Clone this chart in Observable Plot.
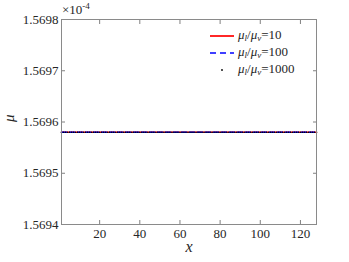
<!DOCTYPE html>
<html>
<head>
<meta charset="utf-8">
<script src="https://cdn.jsdelivr.net/npm/d3@7"></script>
<script src="https://cdn.jsdelivr.net/npm/@observablehq/plot@0.6"></script>
<style>
  html, body { margin: 0; padding: 0; background: #fff; }
  #wrap { position: relative; width: 349px; height: 262px; color: #262626; }
  html body #wrap, html body #wrap *, html body #wrap svg text, html body #wrap svg tspan { font-family: 'Liberation Serif', 'Times New Roman', serif !important; }
  #wrap > svg { position: absolute; left: 0; top: 0; }
  .ov { position: absolute; color: #262626; white-space: nowrap; }
  .leg { font-size: 13px; line-height: 13px; }
  .leg sub { font-size: 9px; vertical-align: -2px; font-style: italic; }
</style>
</head>
<body>
<div id="wrap"></div>
<script>
// Grid positions along x
const xValues = [1,2,3,4,5,6,7,8,9,10,11,12,13,14,15,16,17,18,19,20,21,22,23,24,25,26,27,28,29,30,31,32,
  33,34,35,36,37,38,39,40,41,42,43,44,45,46,47,48,49,50,51,52,53,54,55,56,57,58,59,60,61,62,63,64,
  65,66,67,68,69,70,71,72,73,74,75,76,77,78,79,80,81,82,83,84,85,86,87,88,89,90,91,92,93,94,95,96,
  97,98,99,100,101,102,103,104,105,106,107,108,109,110,111,112,113,114,115,116,117,118,119,120,121,122,123,124,125,126,127,128];
// Series (mu in units of 1e-4), constant along x
const seriesNames = ["10", "100", "1000"];
const seriesMu = [1.56958, 1.56958, 1.56958];
const yTicks = [1.5694, 1.5695, 1.5696, 1.5697, 1.5698];
const xTicks = [20, 40, 60, 80, 100, 120];

const rows = [];
seriesNames.forEach((s, i) => xValues.forEach(x => rows.push({series: s, x, mu: seriesMu[i]})));
const r10 = rows.filter(d => d.series === "10");
const r100 = rows.filter(d => d.series === "100");
const r1000 = rows.filter(d => d.series === "1000");

const serif = "'Liberation Serif', 'Times New Roman', serif";
const chart = Plot.plot({
  width: 349,
  height: 262,
  marginLeft: 61,
  marginRight: 33,
  marginTop: 19,
  marginBottom: 38,
  style: {fontFamily: serif, fontSize: "13px", color: "#262626", background: "transparent"},
  x: {domain: [1, 128]},
  y: {domain: [1.5694, 1.5698]},
  marks: [
    Plot.line(r10, {x: "x", y: "mu", stroke: "#ff0000", strokeWidth: 1.6}),
    Plot.line(r100, {x: "x", y: "mu", stroke: "#0000ff", strokeWidth: 1.6, strokeDasharray: "5,3"}),
    Plot.dot(r1000, {x: "x", y: "mu", r: 0.8, fill: "#000", stroke: null}),
    Plot.axisY(yTicks, {anchor: "left", tickSize: -4, tickPadding: 7, tickFormat: d => d.toFixed(4), label: null, stroke: "#808080", color: "#262626", fontSize: 13, fontFamily: serif}),
    Plot.axisY(yTicks, {anchor: "right", tickSize: -4, tickFormat: () => "", label: null, stroke: "#808080"}),
    Plot.axisX(xTicks, {anchor: "bottom", tickSize: -4, tickPadding: 8, label: null, stroke: "#808080", color: "#262626", fontSize: 13, fontFamily: serif}),
    Plot.axisX(xTicks, {anchor: "top", tickSize: -4, tickFormat: () => "", label: null, stroke: "#808080"}),
    Plot.frame({stroke: "#8a8a8a", strokeWidth: 1}),
    Plot.text(["μ"], {frameAnchor: "left", dx: -52, rotate: -90, fontStyle: "italic", fontSize: 15, fill: "#262626", fontFamily: serif}),
    Plot.text(["x"], {frameAnchor: "bottom", dy: 27, fontStyle: "italic", fontSize: 16, fill: "#262626", fontFamily: serif})
  ]
});
const wrap = document.getElementById("wrap");
wrap.appendChild(chart);

// exponent label
const ex = document.createElement("div");
ex.className = "ov";
ex.style.fontFamily = serif;
ex.style.left = "62px"; ex.style.top = "1px"; ex.style.fontSize = "13px";
ex.innerHTML = "×10<sup style='font-size:9px;vertical-align:5px'>-4</sup>";
wrap.appendChild(ex);

// legend
const legendSpecs = [
  {name: seriesNames[0], type: "solid", color: "#ff0000"},
  {name: seriesNames[1], type: "dash", color: "#0000ff"},
  {name: seriesNames[2], type: "dot", color: "#000"}
];
legendSpecs.forEach((s, i) => {
  const cy = 36 + i * 17;
  const sw = document.createElementNS("http://www.w3.org/2000/svg", "svg");
  sw.setAttribute("width", 28); sw.setAttribute("height", 8);
  sw.style.position = "absolute"; sw.style.left = "208px"; sw.style.top = (cy - 4) + "px";
  if (s.type === "dot") {
    sw.innerHTML = `<circle cx="14" cy="4" r="0.9" fill="${s.color}"/>`;
  } else {
    sw.innerHTML = `<line x1="2" x2="26" y1="4" y2="4" stroke="${s.color}" stroke-width="1.7" ${s.type === "dash" ? 'stroke-dasharray="6,4"' : ""}/>`;
  }
  wrap.appendChild(sw);
  const t = document.createElement("div");
  t.className = "ov leg";
  t.style.fontFamily = serif;
  t.style.left = "238px"; t.style.top = (cy - 8) + "px";
  t.innerHTML = `<i>μ</i><sub>l</sub>/<i>μ</i><sub>v</sub>=${s.name}`;
  wrap.appendChild(t);
});
</script>
</body>
</html>
